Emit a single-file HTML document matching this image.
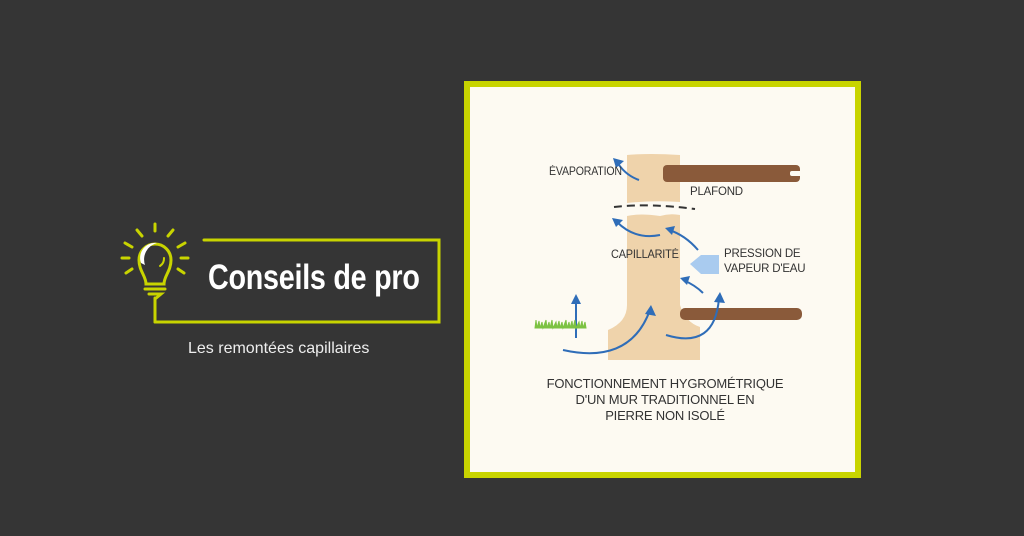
<!DOCTYPE html>
<html><head><meta charset="utf-8"><style>
body{margin:0;width:1024px;height:536px;background:#353535;position:relative;overflow:hidden;font-family:"Liberation Sans",sans-serif}
.a{position:absolute}
.t{font-size:11.5px;color:#333;letter-spacing:-0.2px}
</style></head><body>
<svg class="a" style="left:0;top:0" width="1024" height="536">
<g stroke="#c8d400" stroke-width="3" fill="none" stroke-linecap="round">
<line x1="155" y1="224" x2="155" y2="231"/>
<line x1="137" y1="230" x2="142" y2="236"/>
<line x1="173" y1="230" x2="168" y2="236"/>
<line x1="125" y1="243" x2="132" y2="247"/>
<line x1="185" y1="243" x2="178" y2="247"/>
<line x1="122" y1="258" x2="129" y2="258"/>
<line x1="188" y1="258" x2="181" y2="258"/>
<line x1="126" y1="273" x2="132" y2="269"/>
<line x1="184" y1="273" x2="178" y2="269"/>
<path d="M146 284 C146 276 139 271 139 260 A16 16 0 1 1 171 260 C171 271 164 276 164 284 Z"/>
<line x1="145" y1="289" x2="165" y2="289"/>
<path d="M149 294 L161 294 L155 299"/>
<line x1="155" y1="298" x2="155" y2="322"/>
<path d="M155 322 L439 322 L439 240 L204 240"/>
<path d="M164 258 A9 9 0 0 1 160 266" stroke-width="2"/>
</g>
<path d="M141 263 A15 15 0 0 1 157 243 A17 17 0 0 0 145 265 Z" fill="#fff"/>
<rect x="467" y="84" width="391" height="391" fill="#fdfaf2" stroke="#c8d400" stroke-width="6"/>
<path d="M627 155 Q650 153 680 155 L680 202 Q655 200 627 203 Z" fill="#efd3ab"/>
<path d="M627 216 Q640 213 660 216 Q670 213 680 215 L680 305 Q685 322 700 327 L700 360 L608 360 L608 330 Q627 322 627 305 Z" fill="#efd3ab"/>
<rect x="663" y="165" width="137" height="17" rx="4" fill="#8a5a3a"/>
<rect x="790" y="171" width="12" height="5" rx="2" fill="#fdfaf2"/>
<rect x="680" y="308" width="122" height="12" rx="5" fill="#8a5a3a"/>
<path d="M614 207 Q650 203 695 209" stroke="#333" stroke-width="2" stroke-dasharray="8 5" fill="none"/>
<path d="M690 264 L701 255 L719 255 L719 274 L701 274 Z" fill="#a9cbef"/>
<g stroke="#2f6db8" stroke-width="2" fill="none">
<path d="M639 180 Q625 175 617 162"/>
<path d="M660 235 Q635 240 617 222"/>
<path d="M698 250 Q685 235 669 230"/>
<path d="M703 293 Q695 285 683 280"/>
<line x1="576" y1="338" x2="576" y2="300"/>
<path d="M563 350 Q630 365 650 310"/>
<path d="M666 335 Q715 350 719 298"/>
</g>
<g fill="#2f6db8">
<path d="M613 158 L624 161 L616 168 Z"/>
<path d="M612 218 L623 220 L616 227 Z"/>
<path d="M665 228 L675 226 L672 235 Z"/>
<path d="M680 278 L690 276 L687 285 Z"/>
<path d="M576 294 L581 304 L571 304 Z"/>
<path d="M651 305 L656 316 L645 314 Z"/>
<path d="M720 292 L725 303 L714 302 Z"/>
</g>
<path d="M535 328 l1-8 l1 8 l2-7 l1 7 l2-6 l1 6 l3-8 l1 8 l2-6 l1 6 l2-8 l1 8 l3-6 l1 6 l2-7 l1 7 l2-6 l1 6 l3-8 l1 8 l2-6 l1 6 l2-7 l1 7 l2-8 l1 8 l3-6 l1 6 l2-7 l1 7 l2-6 l1 6 Z" fill="#7cc242" stroke="#7cc242" stroke-width="1"/>
</svg>
<div class="a" style="left:208px;top:258px;font-family:'Liberation Sans Narrow','Liberation Sans',sans-serif;font-weight:bold;font-size:35px;color:#fff;transform:scaleX(0.82);transform-origin:left;letter-spacing:-0.3px">Conseils de pro</div>
<div class="a" style="left:188px;top:340px;font-size:16px;color:#eee">Les remontées capillaires</div>
<div class="a t" style="left:549px;top:166px;transform:scaleX(0.92);transform-origin:left">ÉVAPORATION</div>
<div class="a t" style="left:690px;top:186px">PLAFOND</div>
<div class="a t" style="left:611px;top:249px;transform:scaleX(0.95);transform-origin:left">CAPILLARITÉ</div>
<div class="a t" style="left:724px;top:247px;line-height:15px">PRESSION DE<br>VAPEUR D'EAU</div>
<div class="a" style="left:540px;top:376px;width:250px;text-align:center;font-size:13px;color:#333;line-height:16px;letter-spacing:-0.2px">FONCTIONNEMENT HYGROMÉTRIQUE<br>D'UN MUR TRADITIONNEL EN<br>PIERRE NON ISOLÉ</div>
</body></html>
